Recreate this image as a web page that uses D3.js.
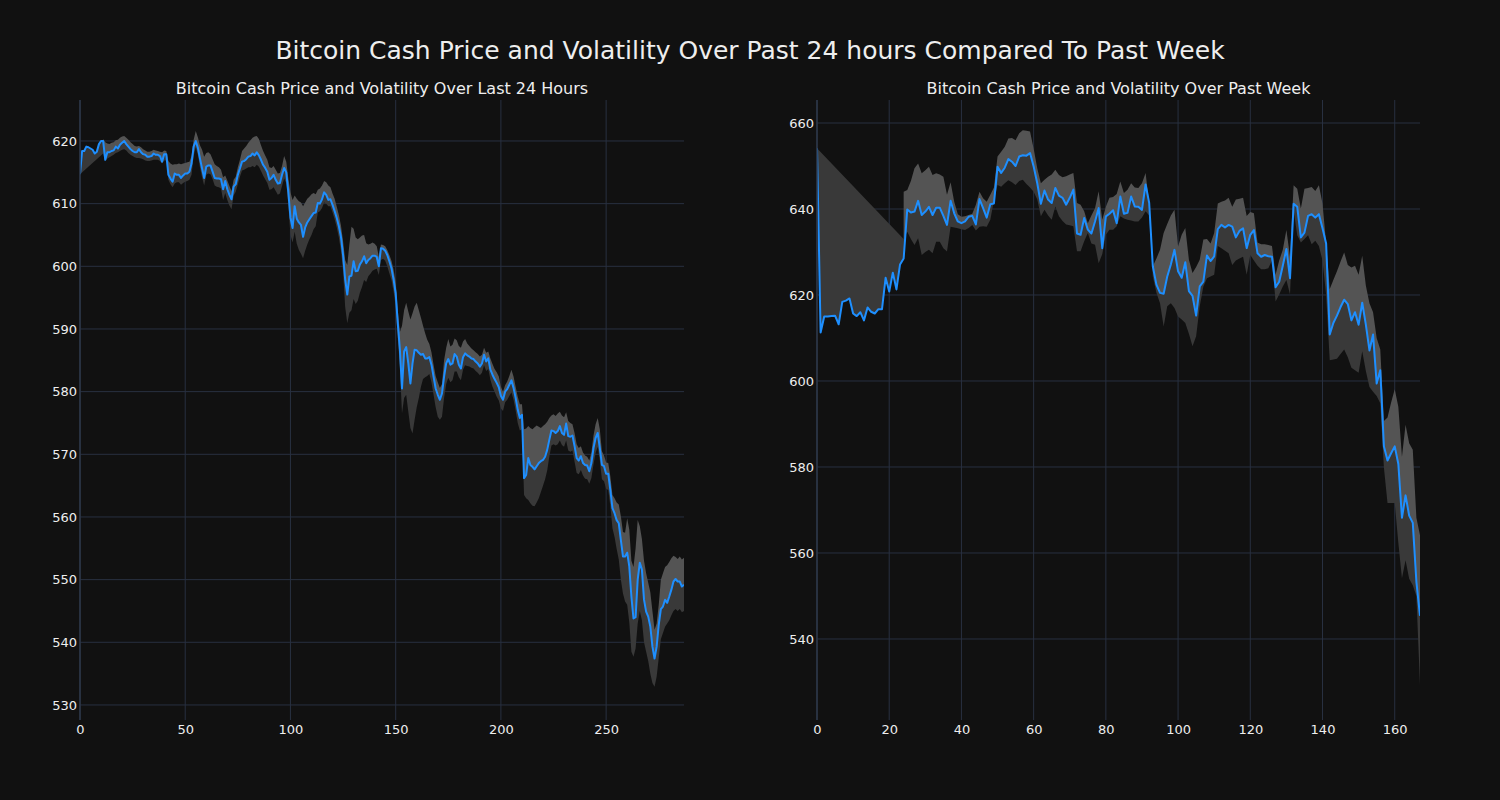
<!DOCTYPE html>
<html>
<head>
<meta charset="utf-8">
<script src="https://cdn.jsdelivr.net/npm/d3@7/dist/d3.min.js"></script>
<style>
  html, body { margin: 0; padding: 0; background: #111111; }
  svg { display: block; }
</style>
</head>
<body>
<svg id="chart" width="1500" height="800"></svg>
<script>
// ---------------- DATA ----------------
const mainTitle = "Bitcoin Cash Price and Volatility Over Past 24 hours Compared To Past Week";
const title24h = "Bitcoin Cash Price and Volatility Over Last 24 Hours";
const titleWeek = "Bitcoin Cash Price and Volatility Over Past Week";

const xTicks24h = [0, 50, 100, 150, 200, 250];
const yTicks24h = [530, 540, 550, 560, 570, 580, 590, 600, 610, 620];
const xTicksWeek = [0, 20, 40, 60, 80, 100, 120, 140, 160];
const yTicksWeek = [540, 560, 580, 600, 620, 640, 660];

const price24h = [614.7,618.4,618.4,619.1,619.0,618.8,618.6,618.0,618.3,619.5,
620.0,620.0,617.0,618.2,618.2,618.4,618.5,619.1,618.8,619.4,
619.7,620.0,619.5,619.1,618.7,618.4,618.2,618.2,618.7,618.2,
617.9,617.8,617.5,617.5,617.6,618.0,617.8,617.8,617.6,616.7,
617.9,617.9,614.6,614.0,613.5,614.8,614.6,614.6,614.1,614.5,
614.8,614.8,615.1,616.4,619.1,620.0,618.9,617.2,615.6,614.1,
615.9,616.1,616.1,615.1,614.1,614.0,614.0,613.9,612.3,613.6,
612.3,611.4,610.7,612.7,613.1,614.6,615.6,616.7,616.8,617.1,
617.5,617.6,618.0,617.7,618.2,617.7,617.0,616.2,615.7,615.1,
613.8,614.1,614.6,613.8,613.2,613.3,614.6,615.7,615.0,611.8,
607.8,606.1,609.6,607.6,607.0,606.6,604.7,606.2,607.0,607.5,
608.0,608.5,608.6,610.1,610.0,610.7,611.8,611.4,610.6,610.7,
609.8,608.8,607.7,606.4,604.7,601.8,597.9,595.5,598.4,598.5,
600.8,599.2,599.3,600.3,600.8,601.6,600.5,601.0,601.3,601.7,
601.7,601.5,600.0,602.9,602.8,602.5,601.8,600.8,599.7,597.9,
595.7,590.9,586.7,580.5,586.4,587.1,584.5,581.3,584.5,586.7,
586.6,586.2,585.9,586.0,585.3,585.3,585.5,584.3,582.4,580.5,
579.5,578.7,579.7,582.4,584.5,585.2,584.3,584.5,586.0,585.6,
584.3,583.7,585.5,586.1,585.8,585.6,585.3,585.2,584.8,584.5,
584.0,584.5,585.9,584.8,585.3,583.5,582.7,582.0,581.4,580.7,
579.3,578.7,580.0,580.4,581.1,581.8,580.6,579.0,577.1,575.8,
576.3,566.2,566.7,569.4,568.3,568.0,567.6,568.1,568.6,568.9,
569.1,569.6,570.7,572.3,573.8,573.7,573.4,573.7,574.5,573.4,
573.1,574.9,572.9,572.8,573.0,571.3,569.4,569.0,569.7,568.6,
568.3,568.2,567.3,568.6,571.0,572.6,573.4,571.0,568.3,568.1,
566.9,566.9,564.3,561.4,560.6,559.5,559.0,556.3,553.7,553.7,
554.3,552.1,547.3,543.8,544.0,550.0,552.7,551.6,546.8,544.9,
544.1,542.5,539.3,537.4,539.3,542.8,545.3,545.7,546.8,546.3,
547.3,548.4,549.7,550.1,549.7,549.7,548.9,549.2];

const upper24h = [null,null,null,null,null,null,null,null,null,null,
null,620.3,619.8,619.6,619.5,619.7,619.8,620.1,620.2,620.5,
620.7,620.8,620.5,620.2,619.8,619.5,619.2,619.1,619.2,619.0,
618.7,618.5,618.3,618.3,618.4,618.6,618.5,618.4,618.3,618.2,
618.5,618.4,616.8,616.4,616.2,616.3,616.3,616.4,616.3,616.4,
616.5,616.6,616.7,617.6,620.2,621.6,620.6,619.3,618.6,617.5,
618.1,618.2,617.9,617.1,616.3,616.0,615.8,615.4,614.2,614.5,
613.7,612.8,612.0,613.8,614.3,615.8,617.0,618.4,618.8,619.2,
619.7,620.1,620.5,620.7,620.8,620.3,619.3,618.4,617.7,617.0,
615.8,615.7,616.0,615.4,614.8,614.9,616.0,617.6,616.7,614.0,
611.8,610.6,611.3,610.8,610.4,610.2,609.6,610.2,610.8,611.1,
611.5,611.7,611.5,612.2,612.4,612.9,613.6,613.4,612.9,612.6,
611.6,610.8,609.5,608.2,606.5,604.0,601.0,600.2,603.5,606.3,
606.0,604.6,604.3,604.6,604.9,605.0,603.7,603.5,603.6,603.8,
603.6,603.2,601.5,603.5,603.4,603.2,602.6,601.8,600.9,599.5,
597.5,593.0,589.5,590.5,593.0,594.2,592.8,591.5,592.5,593.6,
594.2,593.0,591.8,590.5,589.3,588.3,587.6,586.3,584.3,582.5,
581.5,580.6,581.2,585.0,587.0,588.4,587.2,587.5,588.5,588.2,
587.3,587.0,588.0,588.4,587.7,587.3,586.9,586.6,586.3,586.0,
585.6,585.9,587.0,586.2,586.4,585.3,584.4,583.6,583.1,582.4,
580.8,580.0,581.0,581.6,582.5,583.5,582.4,580.8,579.2,578.0,
578.0,574.0,574.1,574.5,574.2,574.0,574.3,574.6,574.4,574.2,
574.5,574.8,575.2,575.8,576.2,576.4,576.1,576.5,576.8,576.2,
575.9,576.7,575.3,575.0,574.8,573.4,571.6,571.0,571.3,570.3,
569.8,569.6,569.0,570.3,573.0,574.8,575.8,574.0,570.5,569.8,
568.7,568.6,566.5,563.5,563.0,562.3,562.0,560.1,557.6,557.5,
559.8,558.0,553.0,552.0,555.0,559.5,558.5,556.5,553.0,551.0,
549.5,548.0,545.0,542.0,543.0,546.0,550.0,551.0,552.0,552.3,
552.8,553.4,553.8,553.6,553.3,553.7,553.2,553.5];

const lower24h = [614.7,null,null,null,null,null,null,null,null,null,
null,618.0,616.8,617.2,617.4,617.6,617.8,618.1,618.2,618.4,
618.6,618.7,618.5,618.1,617.8,617.6,617.4,617.3,617.3,617.2,
617.1,616.9,616.8,616.8,616.9,617.0,617.0,617.0,616.8,616.4,
616.9,616.9,613.8,613.1,612.6,613.2,613.4,613.4,613.0,613.3,
613.5,613.6,613.8,614.6,617.6,619.0,617.8,615.8,614.2,612.9,
614.6,614.8,614.7,613.9,612.9,612.7,612.6,612.4,610.6,611.7,
610.6,609.7,609.1,611.3,611.9,613.1,614.3,615.3,615.4,615.6,
615.8,615.8,616.0,615.8,616.2,615.9,615.2,614.5,613.9,613.3,
612.2,612.3,612.6,612.0,611.4,611.6,612.8,614.0,613.3,609.8,
605.0,603.8,605.5,603.6,602.6,602.0,601.3,602.5,603.5,604.3,
605.0,605.9,606.4,608.6,608.8,609.3,610.2,610.0,609.6,609.6,
608.6,607.5,606.2,604.6,602.5,599.2,593.5,590.9,592.6,593.0,
594.8,594.0,594.5,595.8,596.7,597.8,597.5,598.4,598.8,599.3,
599.5,599.6,598.6,601.0,601.2,600.9,600.0,598.9,597.8,596.0,
593.6,588.5,584.0,576.5,579.0,579.5,576.8,574.2,573.3,575.5,
577.5,579.0,580.8,582.0,582.3,582.5,582.8,581.5,579.5,577.5,
576.0,575.5,576.0,579.0,581.2,582.2,581.5,581.8,583.2,583.2,
582.3,581.8,583.5,584.2,584.1,584.0,583.8,583.7,583.3,583.0,
582.6,583.0,584.2,583.3,583.6,581.9,580.8,580.0,579.2,578.6,
577.3,576.9,578.3,578.7,579.3,579.9,578.7,577.0,575.0,573.8,
574.0,563.5,563.0,562.7,562.2,561.8,561.7,562.3,563.0,564.0,
565.0,566.0,567.4,569.6,571.4,571.6,571.4,571.6,572.2,571.5,
571.2,572.2,570.6,570.4,570.6,568.8,567.0,566.8,567.5,566.6,
566.1,566.0,565.3,566.2,568.4,570.2,571.2,569.0,566.0,565.7,
564.5,564.3,561.8,558.2,556.8,554.9,553.2,550.0,547.8,546.5,
546.0,543.2,538.5,537.7,539.0,543.0,545.0,543.5,540.0,538.5,
537.0,535.0,533.5,532.9,534.5,537.5,540.5,541.5,542.5,543.0,
543.5,544.3,545.0,545.3,545.0,545.3,544.8,545.0];

const priceWeek = [654.1,611.3,615.0,615.0,615.1,615.2,613.2,618.4,618.7,619.2,
615.7,615.1,616.0,614.1,617.1,616.1,615.7,616.7,616.7,624.0,
620.8,625.2,621.3,627.1,628.5,639.9,639.2,639.4,641.9,638.6,
639.4,640.5,638.6,640.3,640.3,638.4,636.3,641.9,639.0,637.1,
636.7,637.1,638.2,638.4,636.4,642.3,640.2,638.0,641.1,641.3,
649.8,648.4,649.6,651.6,651.0,650.0,652.2,652.5,652.4,653.0,
649.9,646.0,641.2,644.3,642.2,641.4,644.9,643.1,642.6,641.0,
642.6,644.5,634.3,634.0,637.9,635.2,634.3,637.1,640.2,630.9,
638.3,638.9,639.7,636.7,642.9,638.9,639.1,642.9,640.6,640.5,
639.8,645.7,641.4,626.7,622.4,620.5,620.3,624.3,627.1,630.5,
625.5,624.0,627.6,620.9,619.8,615.2,622.0,623.1,629.2,627.9,
629.0,635.3,636.3,635.7,636.3,635.9,633.4,634.9,635.5,630.9,
634.0,635.1,629.7,628.9,629.3,629.0,628.9,621.8,623.1,626.8,
630.7,623.9,641.2,640.5,633.4,634.5,638.4,638.8,638.0,638.8,
635.5,632.0,610.8,613.5,615.2,617.2,618.9,617.9,614.1,616.0,
613.1,618.2,613.1,607.1,610.8,599.4,602.5,584.8,581.5,583.2,
584.8,580.7,568.2,573.4,568.7,567.0,553.3,545.4];

const upperWeek = [null,null,null,null,null,null,null,null,null,null,
null,null,null,null,null,null,null,null,null,null,
null,null,null,null,644.0,644.4,646.5,649.5,650.6,648.3,
649.0,649.8,647.9,648.3,648.0,647.5,643.3,646.2,641.7,638.8,
638.2,638.3,638.6,638.9,641.0,644.0,642.5,641.7,643.3,645.0,
652.2,653.3,654.5,656.4,656.5,656.0,657.6,658.3,658.2,658.0,
654.0,649.5,646.0,646.8,647.5,648.0,649.1,647.9,647.4,647.6,
648.0,648.4,641.4,641.0,639.5,636.7,638.5,640.2,644.1,637.5,
640.5,642.6,642.8,643.5,646.4,643.7,644.5,646.0,645.0,644.9,
646.0,648.4,641.4,626.7,628.5,630.5,634.4,636.5,638.5,639.8,
631.3,634.0,635.6,628.2,625.1,626.5,628.2,632.9,633.0,632.0,
634.4,641.3,641.7,642.0,642.6,640.5,642.2,642.4,642.6,638.4,
639.3,639.0,632.2,631.8,631.8,631.6,631.4,624.7,628.0,630.5,
635.1,628.9,645.5,644.7,640.1,644.7,644.9,645.1,644.2,645.5,
641.3,632.0,621.4,623.5,625.5,627.8,629.9,627.0,626.4,626.8,
624.7,629.1,622.2,618.1,616.0,610.0,607.3,590.7,591.5,595.0,
598.1,594.0,582.4,589.8,585.5,584.0,568.2,564.1];

const lowerWeek = [654.1,null,null,null,null,null,null,null,null,null,
null,null,null,null,null,null,null,null,null,null,
null,null,null,null,633.0,634.7,633.0,631.6,633.2,629.3,
630.0,630.5,629.7,632.4,632.4,630.9,630.1,635.9,635.7,635.5,
635.3,635.1,635.6,636.3,635.0,635.9,636.0,635.9,637.5,642.0,
645.6,645.2,646.0,646.7,646.2,645.6,646.5,646.8,645.8,645.0,
644.0,642.2,638.3,639.8,638.5,637.5,640.6,638.3,637.2,636.4,
636.2,636.0,630.2,630.2,632.5,634.4,632.0,631.7,627.4,629.5,
634.0,635.2,635.2,636.0,638.3,637.8,637.5,637.3,637.1,637.1,
638.0,639.5,638.5,624.3,620.5,618.1,612.7,617.4,618.1,617.0,
615.0,614.3,613.5,611.0,608.1,610.4,617.4,622.0,623.9,624.3,
624.7,631.4,630.9,630.3,629.7,627.0,628.0,628.5,628.9,624.7,
629.3,628.0,626.8,626.0,626.0,626.2,628.0,618.5,620.1,622.0,
623.5,620.1,639.7,633.9,632.2,633.0,633.9,631.8,632.6,631.4,
628.0,620.0,604.8,605.0,605.2,606.3,607.3,605.5,603.1,602.5,
601.9,606.9,602.3,598.6,597.5,596.5,594.8,579.9,571.6,571.6,
571.6,562.4,554.1,558.3,554.0,552.5,550.0,529.2];

// ---------------- LAYOUT / STYLE ----------------
const BG = "#111111";
const GRID = "#283040";
const SPINE = "#2c3748";
const TEXT = "#eeeeee";
const LINE = "#1e8fff";
const FILL_UP = "#545454";
const FILL_DN = "#393939";
const FONT = "DejaVu Sans, sans-serif";

const svg = d3.select("#chart");
svg.append("rect").attr("width", 1500).attr("height", 800).attr("fill", BG);

svg.append("text")
  .attr("x", 750).attr("y", 59)
  .attr("text-anchor", "middle")
  .attr("fill", TEXT)
  .style("font-family", FONT).style("font-size", "25px")
  .text(mainTitle);

function panel(cfg) {
  const { left, right, top, bottom, yDomain, xMax, price, upper, lower, xTicks, yTicks, title } = cfg;
  const x = d3.scaleLinear().domain([0, xMax]).range([left, right]);
  const y = d3.scaleLinear().domain(yDomain).range([bottom, top]);
  const g = svg.append("g");

  const cid = "clip" + left;
  svg.append("clipPath").attr("id", cid)
    .append("rect").attr("x", left).attr("y", top).attr("width", right - left).attr("height", bottom - top);

  // grid
  g.append("g").selectAll("line").data(yTicks).join("line")
    .attr("x1", left).attr("x2", right)
    .attr("y1", d => y(d)).attr("y2", d => y(d))
    .attr("stroke", GRID).attr("stroke-width", 1);
  g.append("g").selectAll("line").data(xTicks).join("line")
    .attr("x1", d => x(d)).attr("x2", d => x(d))
    .attr("y1", top).attr("y2", bottom)
    .attr("stroke", GRID).attr("stroke-width", 1);

  const idx = d3.range(price.length);
  const plot = g.append("g").attr("clip-path", `url(#${cid})`);

  // light band: price -> upper
  const areaUp = d3.area()
    .defined(i => upper[i] != null)
    .x(i => x(i)).y0(i => y(price[i])).y1(i => y(upper[i]));
  plot.append("path").datum(idx).attr("d", areaUp).attr("fill", FILL_UP);

  // dark band: lower (connecting defined points) -> price (reversed)
  const lowIdx = idx.filter(i => lower[i] != null);
  const pts = lowIdx.map(i => [x(i), y(lower[i])])
    .concat(idx.slice().reverse().map(i => [x(i), y(price[i])]));
  plot.append("path").attr("d", d3.line()(pts) + "Z").attr("fill", FILL_DN);

  // price line
  const line = d3.line().x(i => x(i)).y(i => y(price[i]));
  plot.append("path").datum(idx).attr("d", line)
    .attr("fill", "none").attr("stroke", LINE).attr("stroke-width", 2)
    .attr("stroke-linejoin", "round");

  // left spine
  g.append("line").attr("x1", left).attr("x2", left).attr("y1", top).attr("y2", bottom)
    .attr("stroke", SPINE).attr("stroke-width", 1.5);

  // axes
  const xAxis = d3.axisBottom(x).tickValues(xTicks).tickSize(0).tickPadding(5).tickFormat(d3.format("d"));
  const ax = g.append("g").attr("transform", `translate(0,${bottom})`).call(xAxis);
  ax.select(".domain").remove();
  const yAxis = d3.axisLeft(y).tickValues(yTicks).tickSize(0).tickPadding(3).tickFormat(d3.format("d"));
  const ay = g.append("g").attr("transform", `translate(${left},0)`).call(yAxis);
  ay.select(".domain").remove();
  [ax, ay].forEach(a => a.selectAll("text")
    .attr("fill", TEXT).style("font-family", FONT).style("font-size", "13px"));

  g.append("text")
    .attr("x", (left + right) / 2).attr("y", top - 6)
    .attr("text-anchor", "middle").attr("fill", TEXT)
    .style("font-family", FONT).style("font-size", "16px")
    .text(title);
}

panel({ left: 80, right: 684, top: 100, bottom: 720, yDomain: [527.6, 626.54], xMax: 287,
  price: price24h, upper: upper24h, lower: lower24h, xTicks: xTicks24h, yTicks: yTicks24h, title: title24h });
panel({ left: 817, right: 1420, top: 100, bottom: 720, yDomain: [521.16, 665.35], xMax: 167,
  price: priceWeek, upper: upperWeek, lower: lowerWeek, xTicks: xTicksWeek, yTicks: yTicksWeek, title: titleWeek });
</script>
</body>
</html>
